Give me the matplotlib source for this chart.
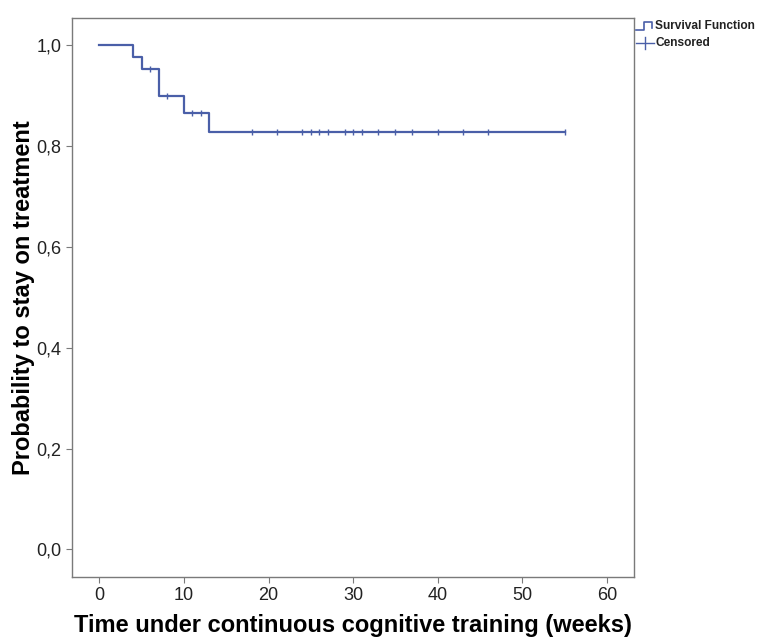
"""Kaplan-Meier curve: retention under continuous cognitive training."""

import matplotlib

matplotlib.use("Agg")
import matplotlib.pyplot as plt
from matplotlib.lines import Line2D

# step function: event times (weeks) and survival after each event
event_weeks = [0, 4, 5, 7, 10, 13, 55]
survival = [1.0, 0.976, 0.952, 0.898, 0.866, 0.827, 0.827]

# censored observations (weeks)
censored_weeks = [6, 8, 11, 12, 18, 21, 24, 25, 26, 27, 29, 30, 31, 33, 35, 37, 40, 43, 46, 55]

x_ticks = [0, 10, 20, 30, 40, 50, 60]
y_ticks = [0.0, 0.2, 0.4, 0.6, 0.8, 1.0]
y_tick_labels = ["0,0", "0,2", "0,4", "0,6", "0,8", "1,0"]

LINE_COLOR = "#4a5fa8"
FRAME_COLOR = "#7a7a7a"

plt.rcParams["font.family"] = ["Liberation Sans", "DejaVu Sans"]


def survival_at(t):
    value = survival[0]
    for w, s in zip(event_weeks, survival):
        if w <= t:
            value = s
    return value


fig = plt.figure(figsize=(7.57, 6.38), dpi=100)
ax = fig.add_axes([0.0951, 0.0961, 0.7424, 0.8762])

ax.step(event_weeks, survival, where="post", color=LINE_COLOR, linewidth=1.6)
ax.plot(
    censored_weeks,
    [survival_at(t) for t in censored_weeks],
    linestyle="none",
    marker="|",
    markersize=5,
    markeredgewidth=1.0,
    color=LINE_COLOR,
)

ax.set_xlim(-3.23, 63.2)
ax.set_ylim(-0.054, 1.054)
ax.set_xticks(x_ticks)
ax.set_yticks(y_ticks)
ax.set_yticklabels(y_tick_labels)
ax.tick_params(direction="out", length=4, width=0.8, color=FRAME_COLOR, labelsize=13, labelcolor="#222222")
for spine in ax.spines.values():
    spine.set_color(FRAME_COLOR)
    spine.set_linewidth(1.0)

ax.set_xlabel("Time under continuous cognitive training (weeks)", fontsize=17, fontweight="bold", labelpad=7)
ax.set_ylabel("Probability to stay on treatment", fontsize=17, fontweight="bold", labelpad=1)

# legend drawn outside the frame, top right
x0, y1, y2 = 636, 26, 43
fw, fh = 757, 638
step_x = [x0, x0 + 8, x0 + 8, x0 + 16, x0 + 16]
step_y = [y1 + 4, y1 + 4, y1 - 4, y1 - 4, y1 + 2]
fig.add_artist(Line2D([v / fw for v in step_x], [1 - v / fh for v in step_y], color=LINE_COLOR, linewidth=1.2))
fig.add_artist(Line2D([x0 / fw, (x0 + 18) / fw], [1 - y2 / fh] * 2, color=LINE_COLOR, linewidth=1.0))
fig.add_artist(Line2D([(x0 + 9) / fw] * 2, [1 - (y2 - 6) / fh, 1 - (y2 + 6) / fh], color=LINE_COLOR, linewidth=1.0))
fig.text((x0 + 19) / fw, 1 - y1 / fh, "Survival Function", fontsize=8.6, fontweight="bold", va="center", color="#222222")
fig.text((x0 + 19) / fw, 1 - y2 / fh, "Censored", fontsize=8.6, fontweight="bold", va="center", color="#222222")

fig.savefig("out.png", dpi=100)
